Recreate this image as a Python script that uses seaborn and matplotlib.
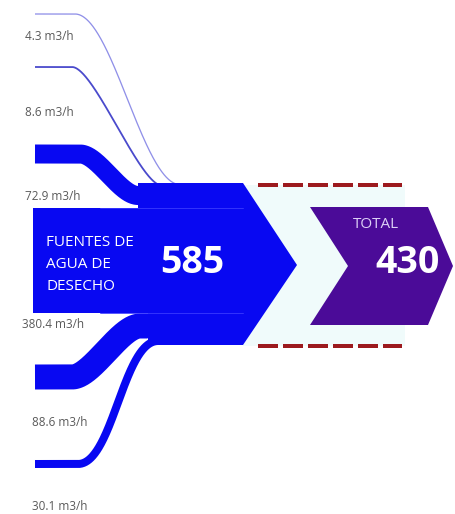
import numpy as np
import matplotlib
matplotlib.use("Agg")
import matplotlib.pyplot as plt
import matplotlib.patheffects as pe
from matplotlib.patches import Polygon, Rectangle
import seaborn as sns

# --- values -----------------------------------------------------------
flow_values = [4.3, 8.6, 72.9, 380.4, 88.6, 30.1]
flow_unit = "m3/h"
source_total = 585
output_total = 430
source_name = ["FUENTES DE", "AGUA DE", "DESECHO"]
output_name = "TOTAL"

# --- layout / style (pixel space, y downwards) ------------------------
W, H = 455, 514
BLUE = "#0808f2"
PURPLE = "#4b0b98"
DASH_RED = "#9c1a1e"
LABEL_GREY = "#5a5a5a"

# band geometry for the flows that are drawn
flow_y_start = [14, 67, 154, 377, 464]
flow_y_end = [184.6, 185.6, 195.5, 326, 341]
bend_x0 = [75, 72, 80, 72, 78]
bend_x1 = [180, 162, 138, 140, 158]
bend_c = [37, 22, 18, 20, 35]
band_px = [1.3, 1.8, 19, 25, 8]
band_colors = ["#9090e8", "#4a4acc", BLUE, BLUE, BLUE]
flow_x_start = 35
flow_x_stop = 200

label_pos = [(25, 37), (25, 113), (25, 196), (22, 325), (32, 423), (32, 507)]

sns.set_theme(style="white")
plt.rcParams["font.family"] = ["Open Sans", "DejaVu Sans"]

PX2PT = 72 / 100


def flow_path(y0, y1, xa, xb, c, n=200):
    """Flat run, cubic Bezier bend, flat run into the collector."""
    t = np.linspace(0, 1, n)
    p0 = np.array([xa, y0])
    p1 = np.array([xa + c, y0])
    p2 = np.array([xb - c, y1])
    p3 = np.array([xb, y1])
    b = ((1 - t) ** 3)[:, None] * p0 + (3 * (1 - t) ** 2 * t)[:, None] * p1 \
        + (3 * (1 - t) * t ** 2)[:, None] * p2 + (t ** 3)[:, None] * p3
    xs = np.concatenate([[flow_x_start], b[:, 0], [flow_x_stop]])
    ys = np.concatenate([[y0], b[:, 1], [y1]])
    return xs, ys


fig = plt.figure(figsize=(W / 100, H / 100), dpi=100)
ax = fig.add_axes([0, 0, 1, 1])
ax.set_xlim(0, W)
ax.set_ylim(H, 0)
ax.axis("off")

# pale band between source and output
ax.add_patch(Rectangle((243, 185), 162, 161, color="#f0fbfb", zorder=0, lw=0))

# flows
for i in range(len(band_px)):
    xs, ys = flow_path(flow_y_start[i], flow_y_end[i], bend_x0[i],
                       bend_x1[i], bend_c[i])
    effects = None
    if i == 4:
        effects = [pe.withStroke(linewidth=(band_px[i] + 2.5) * PX2PT,
                                 foreground="white")]
    sns.lineplot(x=xs, y=ys, sort=False, estimator=None, ax=ax,
                 color=band_colors[i], linewidth=band_px[i] * PX2PT,
                 solid_capstyle="butt", zorder=2, path_effects=effects)

# source collector + arrow
src = [(33, 208), (138, 208), (138, 183), (243, 183), (297, 265),
       (243, 345), (148, 345), (148, 313), (33, 313)]
ax.add_patch(Polygon(src, closed=True, color=BLUE, lw=0, zorder=3))
for yy in (208, 313):
    ax.plot([100, 243], [yy, yy], color="#3a3aff", lw=0.6, zorder=3.5)

# output chevron
out = [(310, 207), (428, 207), (453, 266), (428, 325), (310, 325), (348, 266)]
ax.add_patch(Polygon(out, closed=True, color=PURPLE, lw=0, zorder=3))

# dashed limits
for yy in (185, 346):
    ax.plot([258, 402], [yy, yy], color=DASH_RED, lw=4 * PX2PT,
            linestyle=(0, (5, 1.25)), dash_capstyle="butt", zorder=4)

# flow labels
for v, (lx, ly) in zip(flow_values, label_pos):
    ax.text(lx, ly, f"{v} {flow_unit}", ha="left", va="center",
            fontsize=8.5, color=LABEL_GREY, zorder=5)

# source texts
for k, line in enumerate(source_name):
    ax.text(46, 242 + k * 22.5, line, ha="left", va="center",
            fontsize=11, color="white", zorder=5)
ax.text(192, 263, f"{source_total}", ha="center", va="center",
        fontsize=27, fontweight="bold", color="white", zorder=5)

# output texts
ax.text(376, 224, output_name, ha="center", va="center",
        fontsize=11, color="#dcd0f6", zorder=5)
ax.text(408, 263, f"{output_total}", ha="center", va="center",
        fontsize=27, fontweight="bold", color="white", zorder=5)

fig.savefig("out.png", dpi=100, facecolor="white")
